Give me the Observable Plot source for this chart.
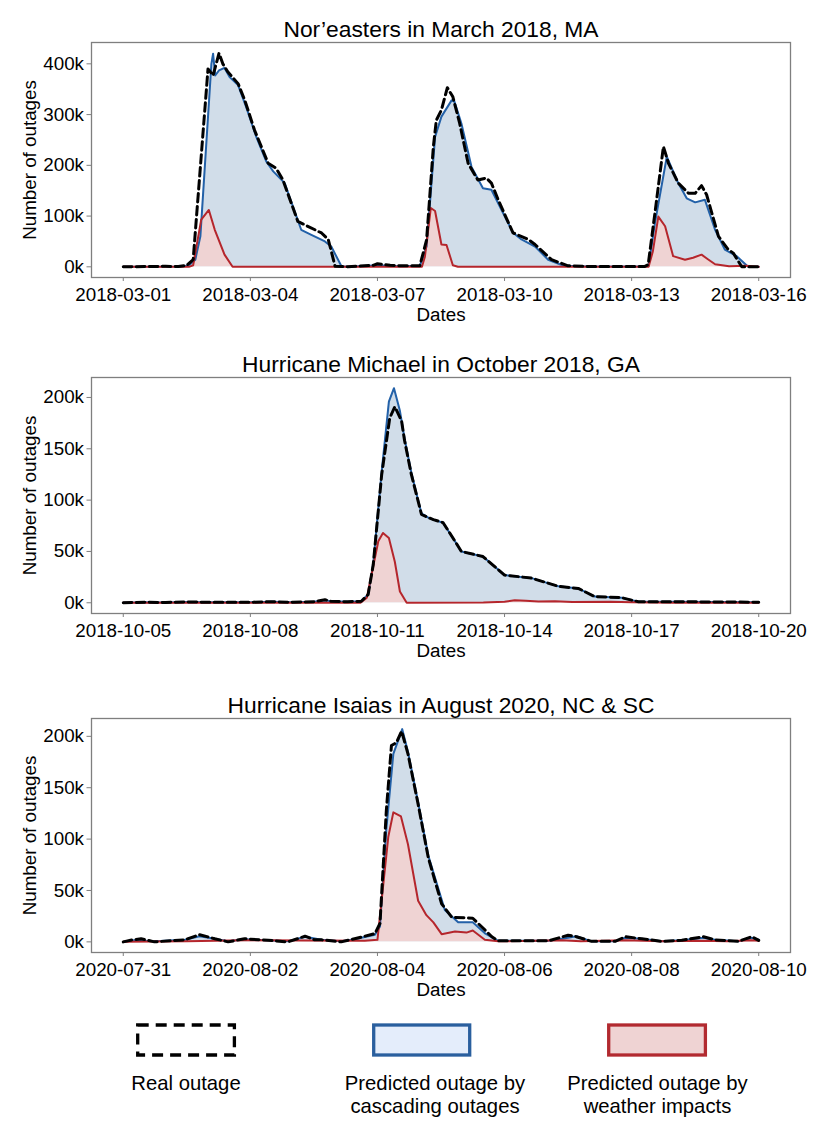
<!DOCTYPE html>
<html><head><meta charset="utf-8">
<script src="https://cdn.jsdelivr.net/npm/d3@7"></script>
<script src="https://cdn.jsdelivr.net/npm/@observablehq/plot@0.6"></script>
<style>
html,body{margin:0;padding:0;background:#fff;}
#root{position:relative;width:830px;height:1121px;font-family:"Liberation Sans",Arial,sans-serif;}
.panel{position:absolute;left:0;}
#legend{position:absolute;left:0;top:1011px;}
</style></head><body><div id="root"></div>
<script>
// ---------- Panel 1: Nor'easters, March 2018, MA (days from first tick, values in k) ----------
const p1Title = "Nor’easters in March 2018, MA";
const p1Ticks = ["2018-03-01","2018-03-04","2018-03-07","2018-03-10","2018-03-13","2018-03-16"];
const p1YTicks = [0,100,200,300,400];
const p1RealT = [0,0.5,1.0,1.3,1.5,1.65,2.0,2.12,2.26,2.35,2.47,2.71,2.87,3.1,3.42,3.61,3.77,4.12,4.68,4.84,5.0,5.3,5.9,6.0,6.3,6.6,7.0,7.16,7.32,7.39,7.51,7.65,7.78,7.94,8.14,8.37,8.57,8.69,8.85,9.2,9.56,9.72,10.11,10.5,11,12.3,12.39,12.55,12.75,12.87,13.1,13.34,13.5,13.65,13.77,14.05,14.28,14.4,14.6,15];
const p1RealV = [0,0.5,1,0.5,3,14,390,377,421,400,384,361,328,269,204,194,171,89.5,66.7,53.6,1,0,3,6,3,2,2,53,237,289,309,353,335,283,204,171,175,165,132,67,54,44,14,2,0.5,0.5,4,106,237,204,165,145,145,160,142,60,34,27,0,0];
const p1BlueT = [0,1.4,1.55,1.7,1.82,2.08,2.12,2.17,2.26,2.39,2.51,2.71,2.9,3.14,3.38,3.54,3.81,4.2,4.44,4.76,4.91,5.15,5.3,6.0,6.5,7.0,7.16,7.36,7.51,7.75,7.82,7.98,8.22,8.49,8.69,8.93,9.2,9.4,9.72,10.03,10.4,11,12.3,12.4,12.55,12.83,13.1,13.3,13.5,13.73,13.97,14.2,14.48,14.75,15];
const p1BlueV = [0,0.5,3,14,60,400,420,377,387,392,374,358,315,256,207,188,165,73,63,50,40,1,0,3,1,2,40,256,296,328,325,283,197,155,152,112,67,54,40,14,2,0.5,0.5,2,86,217,165,135,127,132,73,34,21,0,0];
const p1RedT = [0,1.55,1.65,1.84,2.02,2.16,2.39,2.58,7.05,7.12,7.26,7.36,7.51,7.63,7.78,7.9,12.4,12.5,12.63,12.79,12.98,13.26,13.45,13.65,13.8,13.97,14.3,14.7,15];
const p1RedV = [0,0,3,93,112,73,24,0,0,20,116,110,44,43,3,0,0,30,99,80,21,14,18,24,15,5,1,2,0];

// ---------- Panel 2: Hurricane Michael, October 2018, GA ----------
const p2Title = "Hurricane Michael in October 2018, GA";
const p2Ticks = ["2018-10-05","2018-10-08","2018-10-11","2018-10-14","2018-10-17","2018-10-20"];
const p2YTicks = [0,50,100,150,200];
const p2RealT = [0,0.5,1,1.5,2,3,3.5,4,4.5,4.76,4.9,5.3,5.62,5.78,5.9,6.1,6.29,6.41,6.57,6.64,6.8,6.96,7.04,7.2,7.32,7.55,7.83,7.98,8.49,9.0,9.64,10.27,10.74,11.13,11.76,12.16,13,14,15];
const p2RealV = [0,0.5,0.3,0.8,0.5,0.5,1,0.5,1,3,1.5,1,1.5,8,37,125,180,191,177,158,125,99,86,83,81,78,60,50,45,27,24,16,14,6,5,1,1,0.8,0.5];
const p2BlueT = [0,0.5,1,1.5,2,3,3.5,4,4.5,4.76,4.9,5.3,5.62,5.78,5.9,6.1,6.27,6.39,6.53,6.64,6.8,6.96,7.04,7.2,7.32,7.55,7.83,7.98,8.49,9.0,9.64,10.27,10.74,11.13,11.76,12.16,13,14,15];
const p2BlueV = [0,0.5,0.3,0.8,0.5,0.5,1,0.5,1,2.5,1.5,1,1.5,8,38,128,196,209,187,160,127,100,87,83,81,78,60,50,45,27,24,16,14,6,5,1,1,0.8,0.5];
const p2RedT = [0,5.6,5.75,6.02,6.13,6.27,6.41,6.53,6.69,8.5,9.0,9.24,9.5,9.8,10.19,10.6,11.5,12,13,15];
const p2RedV = [0,0,5,60,68,63,40,11,0,0.3,1,2.5,2,1.2,1.5,0.8,1,0.5,0,0];

// ---------- Panel 3: Hurricane Isaias, August 2020, NC & SC ----------
const p3Title = "Hurricane Isaias in August 2020, NC & SC";
const p3Ticks = ["2020-07-31","2020-08-02","2020-08-04","2020-08-06","2020-08-08","2020-08-10"];
const p3YTicks = [0,50,100,150,200];
const p3RealT = [0,0.15,0.28,0.49,0.97,1.2,1.44,1.65,1.91,2.28,2.59,2.86,3.01,3.12,3.43,3.64,3.96,4.04,4.14,4.22,4.3,4.38,4.48,4.64,4.8,5.01,5.17,5.5,5.8,5.9,6.69,7.0,7.13,7.37,7.74,7.9,8.16,8.47,8.79,9.13,9.31,9.68,9.89,10];
const p3RealV = [0,2,3,0,2,7,3,0,3,1.5,0,5.5,2,2,0,3,8,18,128,191,194,205,183,134,82,37,24,23,5,1,1,6.5,5,0.5,0.5,5,3,0.5,1.5,5,2,0.5,5,1.5];
const p3BlueT = [0,0.15,0.5,0.97,1.2,1.44,1.65,1.91,2.28,2.59,2.86,3.12,3.43,3.64,3.96,4.04,4.14,4.25,4.39,4.48,4.64,4.8,5.06,5.27,5.5,5.7,5.9,6.69,7.0,7.13,7.37,7.74,7.9,8.16,8.47,8.79,9.13,9.31,9.68,9.89,10];
const p3BlueV = [0,1.5,0.5,2,5.5,3,0.5,2.5,1.5,0.5,5,2,0.5,2.5,7,15,110,183,207,185,136,84,31,19,19,8,1,1,4,5.5,0.5,0.5,4,3,0.5,1.5,4,2,0.5,4,2];
const p3RedT = [0,1,1.9,3.8,4.0,4.17,4.25,4.37,4.48,4.64,4.77,4.88,5.01,5.22,5.4,5.5,5.69,5.9,6.9,7.2,7.9,8.5,9.1,9.5,9.89,10];
const p3RedV = [0,0.5,1.5,1,2,102,126,122,95,40,26,19,7.5,10,9,11,2,0.5,1.5,0.5,1.5,0.5,1,0.5,1.5,1];

const yLabel = "Number of outages";
const xLabel = "Dates";
const legendLabels = [["Real outage"], ["Predicted outage by","cascading outages"], ["Predicted outage by","weather impacts"]];

const FONT = '"Liberation Sans", Arial, Helvetica, sans-serif';
const BLUE_LINE = "#2361a8", BLUE_FILL = "#d1dde9";
const RED_LINE = "#b5262c", RED_FILL = "#efd3d3";

function makePanel(p) {
  const parse = s => new Date(s + "T00:00:00Z");
  const t0 = parse(p.ticks[0]);
  const t1 = parse(p.ticks[p.ticks.length - 1]);
  const span = (t1 - t0) / 864e5;
  const toDate = d => new Date(+t0 + d * 864e5);
  const rows = (T, V) => T.map((t, i) => ({date: toDate(t), v: V[i]}));
  const real = rows(p.realT, p.realV), blue = rows(p.blueT, p.blueV), red = rows(p.redT, p.redV);
  const vmax = d3.max([...p.realV, ...p.blueV, ...p.redV]);
  return Plot.plot({
    width: 830, height: p.height,
    marginLeft: 91, marginRight: 40, marginTop: p.mt, marginBottom: 59,
    style: {fontFamily: FONT, fontSize: "18.8px", color: "black", background: "white", overflow: "visible"},
    x: {type: "utc", domain: [toDate(-0.05 * span), toDate(1.05 * span)]},
    y: {domain: [-0.05 * vmax, 1.05 * vmax]},
    marks: [
      Plot.areaY(blue, {x: "date", y1: 0, y2: "v", fill: BLUE_FILL}),
      Plot.areaY(red, {x: "date", y1: 0, y2: "v", fill: RED_FILL}),
      Plot.lineY(blue, {x: "date", y: "v", stroke: BLUE_LINE, strokeWidth: 2}),
      Plot.lineY(red, {x: "date", y: "v", stroke: RED_LINE, strokeWidth: 2}),
      Plot.lineY(real, {x: "date", y: "v", stroke: "black", strokeWidth: 3, strokeDasharray: "8.5,4.5"}),
      Plot.frame({stroke: "#7f7f7f", strokeWidth: 1.3}),
      Plot.axisX({ticks: p.ticks.map(parse), tickFormat: d3.utcFormat("%Y-%m-%d"), tickSize: 4, tickPadding: 6, stroke: "#7f7f7f", fill: "black", label: null}),
      Plot.axisY({ticks: p.yTicks, tickFormat: d => d + "k", tickSize: 4.5, tickPadding: 3, stroke: "#7f7f7f", fill: "black", label: null}),
      Plot.text([p.title], {text: d => d, frameAnchor: "top", textAnchor: "middle", lineAnchor: "bottom", dy: -6, fontSize: 22.8, fill: "black"}),
      Plot.text([yLabel], {text: d => d, frameAnchor: "left", textAnchor: "middle", lineAnchor: "middle", rotate: -90, dx: -62, fontSize: 18.8, fill: "black"}),
      Plot.text([xLabel], {text: d => d, frameAnchor: "bottom", textAnchor: "middle", lineAnchor: "bottom", dy: 43, fontSize: 18.8, fill: "black"})
    ]
  });
}

const panels = [
  {top: 0, height: 336, mt: 42, title: p1Title, ticks: p1Ticks, yTicks: p1YTicks, realT: p1RealT, realV: p1RealV, blueT: p1BlueT, blueV: p1BlueV, redT: p1RedT, redV: p1RedV},
  {top: 336, height: 336, mt: 41, title: p2Title, ticks: p2Ticks, yTicks: p2YTicks, realT: p2RealT, realV: p2RealV, blueT: p2BlueT, blueV: p2BlueV, redT: p2RedT, redV: p2RedV},
  {top: 672, height: 339, mt: 46, title: p3Title, ticks: p3Ticks, yTicks: p3YTicks, realT: p3RealT, realV: p3RealV, blueT: p3BlueT, blueV: p3BlueV, redT: p3RedT, redV: p3RedV}
];

const root = document.getElementById("root");
for (const p of panels) {
  const div = document.createElement("div");
  div.className = "panel";
  div.style.top = p.top + "px";
  div.appendChild(makePanel(p));
  root.appendChild(div);
}

// ---------- Legend ----------
const lg = document.createElement("div");
lg.id = "legend";
const fs = 20.3;
const txt = (x, lines) => lines.map((s, i) => `<text x="${x}" y="${79 + i * 23}" text-anchor="middle" font-size="${fs}" fill="black">${s}</text>`).join("");
lg.innerHTML = `<svg width="830" height="110" font-family='${FONT}' xmlns="http://www.w3.org/2000/svg">
<rect x="137.7" y="14" width="96.7" height="30" fill="none" stroke="black" stroke-width="3.3" stroke-dasharray="11,7"/>
<rect x="373.7" y="14" width="96" height="30" fill="#e4edfb" stroke="#2a5f9e" stroke-width="3.3"/>
<rect x="608.7" y="14" width="96.7" height="30" fill="${RED_FILL}" stroke="#b22a30" stroke-width="3.3"/>
${txt(186, legendLabels[0])}${txt(435, legendLabels[1])}${txt(657.5, legendLabels[2])}
</svg>`;
root.appendChild(lg);
</script>
</body></html>
